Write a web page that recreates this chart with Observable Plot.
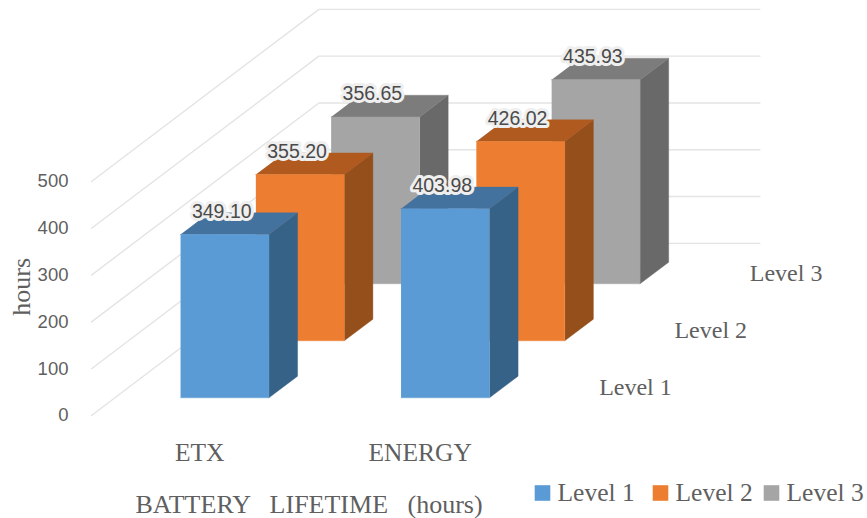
<!DOCTYPE html>
<html>
<head>
<meta charset="utf-8">
<script src="https://cdn.jsdelivr.net/npm/d3@7"></script>
<script src="https://cdn.jsdelivr.net/npm/@observablehq/plot@0.6"></script>
<style>
  html, body { margin: 0; padding: 0; background: #fff; }
  svg { display: block; }
</style>
</head>
<body>
<div id="chart"></div>
<script>
// Battery lifetime per routing metric and network level
const categories = ["ETX", "ENERGY"];
const levels = ["Level 1", "Level 2", "Level 3"];
const level1 = [349.10, 403.98];
const level2 = [355.20, 426.02];
const level3 = [356.65, 435.93];
const seriesValues = [level1, level2, level3];
const hourTicks = [0, 100, 200, 300, 400, 500];

const frontColors = ["#5B9BD5", "#ED7D31", "#A5A5A5"];
const topColors = ["#43729E", "#B05A20", "#7C7C7C"];
const sideColors = ["#376287", "#954F1B", "#696969"];

// Oblique projection: one depth slot moves right along x and up in hours
const depthToX = 0.3415;
const depthToHours = 121.8;
const wallDepth = 3.02;
const barFrom = 0.298, barTo = 0.699;
const depthFrom = 0.31, depthTo = 0.69;
const project = (u, d, h) => ({x: u + d * depthToX, y: h + d * depthToHours});

// Faces are listed back to front so nearer bars paint over farther ones
const faces = [];
const labels = [];
for (let s = levels.length - 1; s >= 0; --s) {
  categories.forEach((category, c) => {
    const v = seriesValues[s][c];
    const x0 = c + barFrom, x1 = c + barTo;
    const d0 = s + depthFrom, d1 = s + depthTo;
    const addFace = (name, color, corners) =>
      corners.forEach(([u, d, h]) =>
        faces.push({face: `${category}-${s}-${name}`, color, ...project(u, d, h)}));
    addFace("side", sideColors[s], [[x1, d0, 0], [x1, d1, 0], [x1, d1, v], [x1, d0, v]]);
    addFace("top", topColors[s], [[x0, d0, v], [x1, d0, v], [x1, d1, v], [x0, d1, v]]);
    addFace("front", frontColors[s], [[x0, d0, 0], [x1, d0, 0], [x1, d0, v], [x0, d0, v]]);
    labels.push({text: v.toFixed(2), ...project((x0 + x1) / 2, d0, v)});
  });
}

// Two walls of gridlines: along the left side and across the back
const grid = hourTicks.flatMap((h) => [
  {tick: h, ...project(0, 0, h)},
  {tick: h, ...project(0, wallDepth, h)},
  {tick: h, ...project(categories.length, wallDepth, h)}
]);

const serif = "Liberation Serif";
const sans = "Liberation Sans";
const ink = "#5f5f5f";

const legendSwatchX = [542, 660, 771];
const legendTextX = [557, 675, 786];

const chart = Plot.plot({
  width: 867,
  height: 518,
  margin: 0,
  x: {domain: [-0.4127, 3.5193], range: [0, 867], axis: null},
  y: {domain: [-220.1, 886.75], range: [518, 0], axis: null},
  marks: [
    Plot.line(grid, {x: "x", y: "y", z: "tick", stroke: "#e4e4e4", strokeWidth: 1.4}),
    Plot.line(faces, {x: "x", y: "y", z: "face", fill: "color", stroke: "color", strokeWidth: 0.4}),
    // Data labels with a pale halo
    Plot.text(labels, {
      x: "x", y: "y", text: "text", dx: -3, dy: -23,
      fontFamily: sans, fontSize: 19.5, fill: "#4a4a4a",
      stroke: "#efefef", strokeWidth: 6
    }),
    // Hour ticks on the front edge of the left wall
    Plot.text(hourTicks, {
      x: () => project(0, 0, 0).x, y: (h) => h, text: (h) => `${h}`,
      textAnchor: "end", dx: -23,
      fontFamily: sans, fontSize: 18.5, fill: ink
    }),
    // Category labels under the floor
    Plot.text(categories, {
      x: (d, i) => project(i + 0.5, 0, 0).x, y: () => 0, text: (d) => d, dx: -2, dy: 37,
      fontFamily: serif, fontSize: 25.5, fill: ink
    }),
    // Depth labels beside the floor
    Plot.text(levels, {
      x: (d, i) => project(categories.length, i + 0.5, 0).x,
      y: (d, i) => project(categories.length, i + 0.5, 0).y,
      text: (d) => d, textAnchor: "start", dx: 29,
      fontFamily: serif, fontSize: 24, fill: ink
    }),
    // Axis titles
    Plot.text(["hours"], {
      frameAnchor: "left", textAnchor: "middle", y: () => 275, dx: 21, rotate: -90,
      fontFamily: serif, fontSize: 26, fill: ink
    }),
    Plot.text(["BATTERY   LIFETIME   (hours)"], {
      frameAnchor: "bottom-left", textAnchor: "start", dx: 135, dy: -6,
      fontFamily: serif, fontSize: 26, fill: ink
    }),
    // Legend
    ...levels.map((level, i) => Plot.dot([level], {
      frameAnchor: "bottom-left", dx: legendSwatchX[i], dy: -25.5,
      symbol: "square", r: 8.8, fill: frontColors[i], stroke: "none"
    })),
    ...levels.map((level, i) => Plot.text([level], {
      frameAnchor: "bottom-left", textAnchor: "start", dx: legendTextX[i], dy: -18,
      fontFamily: serif, fontSize: 25.5, fill: ink
    }))
  ]
});
document.getElementById("chart").append(chart);
</script>
</body>
</html>
